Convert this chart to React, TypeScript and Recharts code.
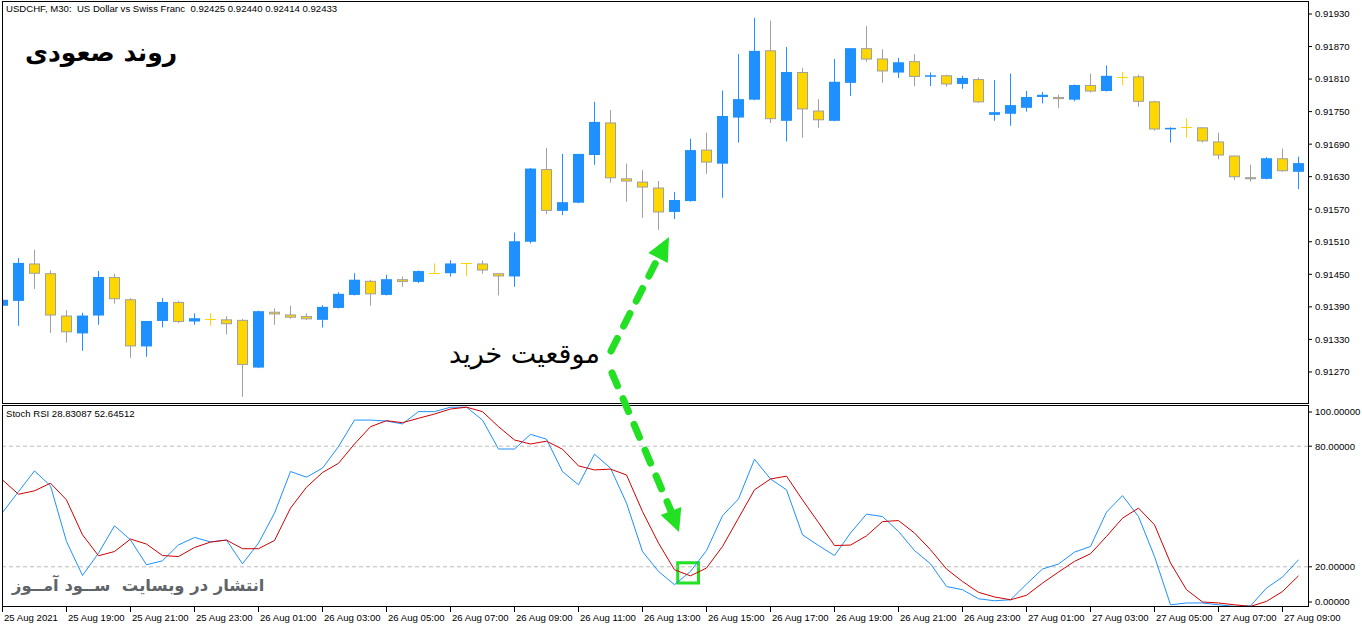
// USDCHF M30 candles with a Stoch RSI pane, drawn in MetaTrader style.
import React from "react";
import {
  ComposedChart,
  Bar,
  XAxis,
  YAxis,
  LineChart,
  Line,
  ReferenceLine,
  ReferenceArea,
} from "recharts";

const W = 1362;
const PLOT_L = 3;
const PLOT_R = 1308;
const AXIS_W = W - PLOT_R;
const SMALL_FONT = "'Liberation Sans', Arial, sans-serif";
const SMALL_SIZE = 9.6;
const FA_FONT = "'DejaVu Sans', sans-serif";

const BLUE = "#1E90FF";
const GOLD = "#FFD700";
const GREY = "#A0A0A0";
const RED = "#D00000";
const GREEN = "#22E022";

const timeLabels = [
  "25 Aug 2021", "25 Aug 19:00", "25 Aug 21:00", "25 Aug 23:00",
  "26 Aug 01:00", "26 Aug 03:00", "26 Aug 05:00", "26 Aug 07:00",
  "26 Aug 09:00", "26 Aug 11:00", "26 Aug 13:00", "26 Aug 15:00",
  "26 Aug 17:00", "26 Aug 19:00", "26 Aug 21:00", "26 Aug 23:00",
  "27 Aug 01:00", "27 Aug 03:00", "27 Aug 05:00", "27 Aug 07:00",
  "27 Aug 09:00",
];

const opens = [
  0.91392, 0.91401, 0.9147, 0.91452, 0.91374, 0.91341, 0.91374, 0.91445, 0.91404, 0.91317,
  0.91364, 0.91399, 0.91363, 0.91368, 0.91367, 0.91366, 0.91278, 0.91381, 0.91376, 0.91373,
  0.91366, 0.91388, 0.91412, 0.91438, 0.91412, 0.91441, 0.91436, 0.91452, 0.91452, 0.9147,
  0.9147, 0.91452, 0.91446, 0.9151, 0.91644, 0.91567, 0.91582, 0.9167, 0.9173, 0.91627,
  0.91621, 0.9161, 0.91565, 0.91585, 0.9168, 0.91654, 0.91739, 0.91772, 0.91863, 0.91733,
  0.91823, 0.91752, 0.91733, 0.91803, 0.91867, 0.91848, 0.91822, 0.91843, 0.91815, 0.91817,
  0.91801, 0.9181, 0.91744, 0.91746, 0.91757, 0.91777, 0.91777, 0.91772, 0.91799, 0.91788,
  0.91814, 0.91815, 0.91769, 0.91719, 0.91722, 0.91721, 0.91695, 0.91669, 0.91629, 0.91626,
  0.91664, 0.91639,
];
const highs = [
  0.91406, 0.9148, 0.91495, 0.91457, 0.91384, 0.91379, 0.91456, 0.91451, 0.91406, 0.91364,
  0.91406, 0.91401, 0.91378, 0.91378, 0.91373, 0.91368, 0.91383, 0.91387, 0.91392, 0.91378,
  0.91393, 0.91417, 0.91452, 0.9144, 0.91449, 0.91446, 0.91457, 0.9147, 0.91476, 0.91471,
  0.91475, 0.91452, 0.91527, 0.91646, 0.91683, 0.91672, 0.91672, 0.91768, 0.91753, 0.91654,
  0.91642, 0.91622, 0.91602, 0.917, 0.91711, 0.91789, 0.91856, 0.91923, 0.91918, 0.91869,
  0.9183, 0.91773, 0.91847, 0.91867, 0.91908, 0.91865, 0.91849, 0.91856, 0.91822, 0.91818,
  0.91816, 0.91813, 0.91808, 0.9182, 0.91788, 0.91786, 0.91781, 0.918, 0.9182, 0.91835,
  0.91823, 0.91818, 0.9177, 0.91721, 0.91738, 0.91721, 0.91711, 0.91669, 0.91652, 0.91666,
  0.91682, 0.91667,
];
const lows = [
  0.9139, 0.91355, 0.91423, 0.91342, 0.91324, 0.91309, 0.91357, 0.91396, 0.91296, 0.91298,
  0.91352, 0.9136, 0.91357, 0.91355, 0.91339, 0.91224, 0.91277, 0.91357, 0.91368, 0.91366,
  0.91352, 0.91387, 0.91411, 0.91392, 0.91411, 0.91427, 0.91434, 0.91451, 0.91446, 0.91446,
  0.91451, 0.91411, 0.91427, 0.91507, 0.91561, 0.91559, 0.91581, 0.91652, 0.91619, 0.91584,
  0.91554, 0.91532, 0.91552, 0.91584, 0.91635, 0.91591, 0.91693, 0.91771, 0.91729, 0.91695,
  0.91702, 0.9172, 0.91732, 0.91779, 0.91842, 0.91803, 0.91812, 0.91797, 0.91797, 0.91796,
  0.91792, 0.91766, 0.91733, 0.91724, 0.9175, 0.91765, 0.91757, 0.91769, 0.91785, 0.91787,
  0.91799, 0.91759, 0.91715, 0.91693, 0.91702, 0.91693, 0.91662, 0.91624, 0.91621, 0.91625,
  0.91639, 0.91607,
];
const closes = [
  0.91403, 0.91471, 0.91451, 0.91374, 0.91343, 0.91374, 0.91445, 0.91404, 0.91317, 0.91364,
  0.91399, 0.91362, 0.91369, 0.91368, 0.91358, 0.91283, 0.91382, 0.91376, 0.9137, 0.91367,
  0.9139, 0.91414, 0.9144, 0.91413, 0.91441, 0.91436, 0.91456, 0.91452, 0.9147, 0.9147,
  0.91457, 0.91446, 0.91511, 0.91645, 0.91567, 0.91583, 0.91672, 0.91731, 0.91627, 0.91621,
  0.9161, 0.91564, 0.91587, 0.91679, 0.91656, 0.91742, 0.91773, 0.91862, 0.91736, 0.91823,
  0.91754, 0.91734, 0.91805, 0.91867, 0.91846, 0.91824, 0.91841, 0.91814, 0.91817, 0.918,
  0.91812, 0.91767, 0.91749, 0.91762, 0.91777, 0.91781, 0.91773, 0.91799, 0.91787, 0.91816,
  0.91814, 0.91768, 0.91717, 0.9172, 0.91722, 0.91695, 0.91669, 0.91629, 0.91628, 0.91664,
  0.9164, 0.91655,
];

// Stoch RSI main (%K) and signal (%D)
const stochK = [
  47.0, 57.4, 67.7, 60.3, 32.6, 15.7, 26.8, 40.4, 33.4, 21.0,
  23.0, 30.9, 34.6, 32.4, 33.3, 21.5, 31.8, 46.7, 67.4, 64.6,
  69.1, 79.8, 93.0, 93.0, 92.5, 91.1, 97.2, 97.2, 99.4, 99.4,
  93.0, 78.6, 78.6, 85.9, 83.5, 67.4, 60.8, 76.0, 69.1, 51.7,
  27.6, 17.7, 11.1, 17.7, 28.1, 45.4, 53.8, 73.5, 63.7, 58.3,
  35.9, 30.6, 25.6, 36.8, 46.2, 45.0, 37.6, 28.1, 21.5, 10.2,
  8.6, 4.1, 3.1, 3.6, 11.4, 18.9, 21.4, 27.3, 30.1, 47.2,
  55.4, 45.0, 25.1, 1.1, 2.0, 2.0, 1.1, 0.3, 0.6, 9.4,
  14.9, 23.5,
];
const stochD = [
  63.2, 56.1, 57.8, 61.6, 53.3, 35.9, 25.5, 27.6, 33.8, 31.3,
  25.6, 25.1, 29.6, 32.3, 33.3, 29.0, 29.0, 33.1, 49.2, 59.6,
  66.9, 71.5, 81.1, 89.7, 92.7, 91.7, 93.9, 96.0, 98.5, 99.4,
  97.2, 89.7, 83.1, 81.1, 82.5, 78.5, 70.2, 68.2, 68.6, 65.7,
  47.5, 31.8, 18.5, 15.5, 19.4, 30.1, 44.2, 58.3, 63.7, 65.1,
  53.3, 42.0, 30.6, 30.8, 35.4, 42.5, 43.0, 36.8, 28.5, 18.9,
  12.7, 7.3, 5.0, 3.6, 5.8, 11.9, 17.4, 22.7, 26.5, 35.1,
  44.2, 49.2, 40.9, 21.9, 8.6, 2.5, 2.0, 1.1, 0.3, 2.8,
  7.7, 15.5,
];

const priceTicks = [
  0.9127, 0.9133, 0.9139, 0.9145, 0.9151, 0.9157,
  0.9163, 0.9169, 0.9175, 0.9181, 0.9187, 0.9193,
];
const stochTicks = [0, 20, 80, 100];
const stochLevels = [20, 80];

// visible window: first bar is half cut by the left frame
const X_DOMAIN: [number, number] = [0.03125, 81.59375];
const PRICE_DOMAIN: [number, number] = [0.912127, 0.919521];
const timeTickIdx = timeLabels.map((_, i) => i * 4);

const data = opens.map((open, i) => ({
  i,
  open,
  high: highs[i],
  low: lows[i],
  close: closes[i],
  range: [lows[i], highs[i]],
  k: stochK[i],
  d: stochD[i],
}));

function renderCandle(props: any) {
  const { x, y, width, height, payload } = props;
  if (!payload) return <g />;
  const { open, close, high, low } = payload;
  const top = Math.min(y, y + height);
  const h = Math.abs(height);
  const s = high > low ? h / (high - low) : 0;
  const py = (p: number) => top + (high - p) * s;
  const left = Math.round(x);
  const bw = Math.round(width);
  const cx = left + Math.floor(bw / 2) + 0.5;

  if (open === close) {
    const yy = Math.round(py(open)) + 0.5;
    return (
      <g>
        <line x1={cx} x2={cx} y1={py(high)} y2={py(low)} stroke={GOLD} />
        <line x1={left} x2={left + bw} y1={yy} y2={yy} stroke={GOLD} />
      </g>
    );
  }
  if (close > open) {
    const bt = py(close);
    return (
      <g>
        <line x1={cx} x2={cx} y1={py(high)} y2={py(low)} stroke={BLUE} />
        <rect x={left} y={bt} width={bw} height={Math.max(1.5, py(open) - bt)} fill={BLUE} />
      </g>
    );
  }
  const bt = py(open);
  return (
    <g>
      <line x1={cx} x2={cx} y1={py(high)} y2={py(low)} stroke={GREY} />
      <rect
        x={left + 0.5}
        y={bt + 0.5}
        width={bw - 1}
        height={Math.max(1, py(close) - bt - 1)}
        fill={GOLD}
        stroke={GREY}
      />
    </g>
  );
}

function renderPriceTick(props: any) {
  const { y, payload } = props;
  return (
    <g>
      <line x1={PLOT_R} x2={PLOT_R + 4} y1={y} y2={y} stroke="#000" />
      <text x={PLOT_R + 7} y={y} dy="0.35em" fontSize={SMALL_SIZE} fontFamily={SMALL_FONT} fill="#000">
        {payload.value.toFixed(5)}
      </text>
    </g>
  );
}

function renderStochTick(props: any) {
  const { y, payload } = props;
  const v = payload.value;
  const ty = v === 100 ? y + 6 : v === 0 ? y - 5 : y;
  return (
    <g>
      <line x1={PLOT_R} x2={PLOT_R + 4} y1={ty} y2={ty} stroke="#000" />
      <text x={PLOT_R + 7} y={ty} dy="0.35em" fontSize={SMALL_SIZE} fontFamily={SMALL_FONT} fill="#000">
        {v.toFixed(5)}
      </text>
    </g>
  );
}

function renderTimeTick(props: any) {
  const { x, y, payload } = props;
  const label = timeLabels[Math.round(payload.value / 4)];
  const tx = Math.floor(x) + 0.5;
  return (
    <g>
      <line x1={tx} x2={tx} y1={y} y2={y + 5} stroke="#000" />
      <text x={tx + 1.5} y={y + 14} fontSize={SMALL_SIZE} fontFamily={SMALL_FONT} fill="#000">
        {label}
      </text>
    </g>
  );
}

function Arrow({ from, to, tip }: { from: number[]; to: number[]; tip: number[] }) {
  const dx = tip[0] - to[0];
  const dy = tip[1] - to[1];
  const len = Math.hypot(dx, dy);
  const nx = -dy / len;
  const ny = dx / len;
  const hw = 11;
  const head = `${tip[0]},${tip[1]} ${to[0] + nx * hw},${to[1] + ny * hw} ${to[0] - nx * hw},${to[1] - ny * hw}`;
  return (
    <g>
      <line
        x1={from[0]}
        y1={from[1]}
        x2={to[0]}
        y2={to[1]}
        stroke={GREEN}
        strokeWidth={7}
        strokeDasharray="14 14"
        strokeLinecap="round"
      />
      <polygon points={head} fill={GREEN} />
    </g>
  );
}

export default function App() {
  return (
    <div
      style={{
        position: "absolute",
        left: 0,
        top: 0,
        width: W,
        height: 628,
        background: "#fff",
        overflow: "hidden",
      }}
    >
      <div style={{ position: "absolute", left: 0, top: 0 }}>
        <ComposedChart width={W} height={404} data={data} margin={{ top: 2, right: 0, left: PLOT_L, bottom: 1 }}>
          <XAxis dataKey="i" type="number" domain={X_DOMAIN} allowDataOverflow hide />
          <YAxis
            orientation="right"
            type="number"
            domain={PRICE_DOMAIN}
            allowDataOverflow
            ticks={priceTicks}
            interval={0}
            width={AXIS_W}
            tickSize={0}
            tickMargin={0}
            axisLine={false}
            tickLine={false}
            tick={renderPriceTick}
          />
          <Bar dataKey="range" barSize={11} shape={renderCandle} isAnimationActive={false} />
        </ComposedChart>
      </div>

      <div style={{ position: "absolute", left: 0, top: 404 }}>
        <LineChart width={W} height={224} data={data} margin={{ top: 2, right: 0, left: PLOT_L, bottom: 0 }}>
          <XAxis
            dataKey="i"
            type="number"
            domain={X_DOMAIN}
            allowDataOverflow
            ticks={timeTickIdx}
            interval={0}
            height={21}
            tickSize={0}
            tickMargin={0}
            axisLine={false}
            tickLine={false}
            tick={renderTimeTick}
          />
          <YAxis
            orientation="right"
            type="number"
            domain={[0, 100]}
            allowDataOverflow
            ticks={stochTicks}
            interval={0}
            width={AXIS_W}
            tickSize={0}
            tickMargin={0}
            axisLine={false}
            tickLine={false}
            tick={renderStochTick}
          />
          {stochLevels.map((lv) => (
            <ReferenceLine key={lv} y={lv} stroke="#BDBDBD" strokeDasharray="4 3" />
          ))}
          <Line dataKey="k" type="linear" stroke={BLUE} strokeWidth={1} dot={false} isAnimationActive={false} />
          <Line dataKey="d" type="linear" stroke={RED} strokeWidth={1} dot={false} isAnimationActive={false} />
          <ReferenceArea x1={42.2} x2={43.5} y1={12} y2={22} stroke={GREEN} strokeWidth={3} fill="none" fillOpacity={0} />
        </LineChart>
      </div>

      {/* frames and annotation arrows */}
      <svg width={W} height={628} style={{ position: "absolute", left: 0, top: 0, pointerEvents: "none" }}>
        <rect x={2.5} y={1.5} width={1306} height={402} fill="none" stroke="#000" />
        <rect x={2.5} y={405.5} width={1306} height={201} fill="none" stroke="#000" />
        <Arrow from={[611, 351]} to={[658, 258]} tip={[669, 237]} />
        <Arrow from={[612, 373]} to={[671, 511]} tip={[679, 532]} />
      </svg>

      <div style={{ position: "absolute", left: 6, top: 3, fontSize: SMALL_SIZE, fontFamily: SMALL_FONT, whiteSpace: "pre" }}>
        {"USDCHF, M30:  US Dollar vs Swiss Franc  0.92425 0.92440 0.92414 0.92433"}
      </div>
      <div style={{ position: "absolute", left: 6, top: 408, fontSize: SMALL_SIZE, fontFamily: SMALL_FONT, whiteSpace: "pre" }}>
        Stoch RSI 28.83087 52.64512
      </div>
      <div
        dir="rtl"
        style={{ position: "absolute", left: 25, top: 38, fontSize: 25, fontWeight: "bold", fontFamily: FA_FONT, whiteSpace: "nowrap" }}
      >
        روند صعودی
      </div>
      <div
        dir="rtl"
        style={{ position: "absolute", left: 449, top: 338, fontSize: 27, fontFamily: FA_FONT, whiteSpace: "nowrap" }}
      >
        موقعیت خرید
      </div>
      <div
        dir="rtl"
        style={{
          position: "absolute",
          left: 12,
          top: 576,
          fontSize: 16.4,
          fontWeight: "bold",
          color: "#5F6468",
          fontFamily: FA_FONT,
          whiteSpace: "pre",
        }}
      >
        انتشار در وبسایت  ســود آمــوز
      </div>
    </div>
  );
}
